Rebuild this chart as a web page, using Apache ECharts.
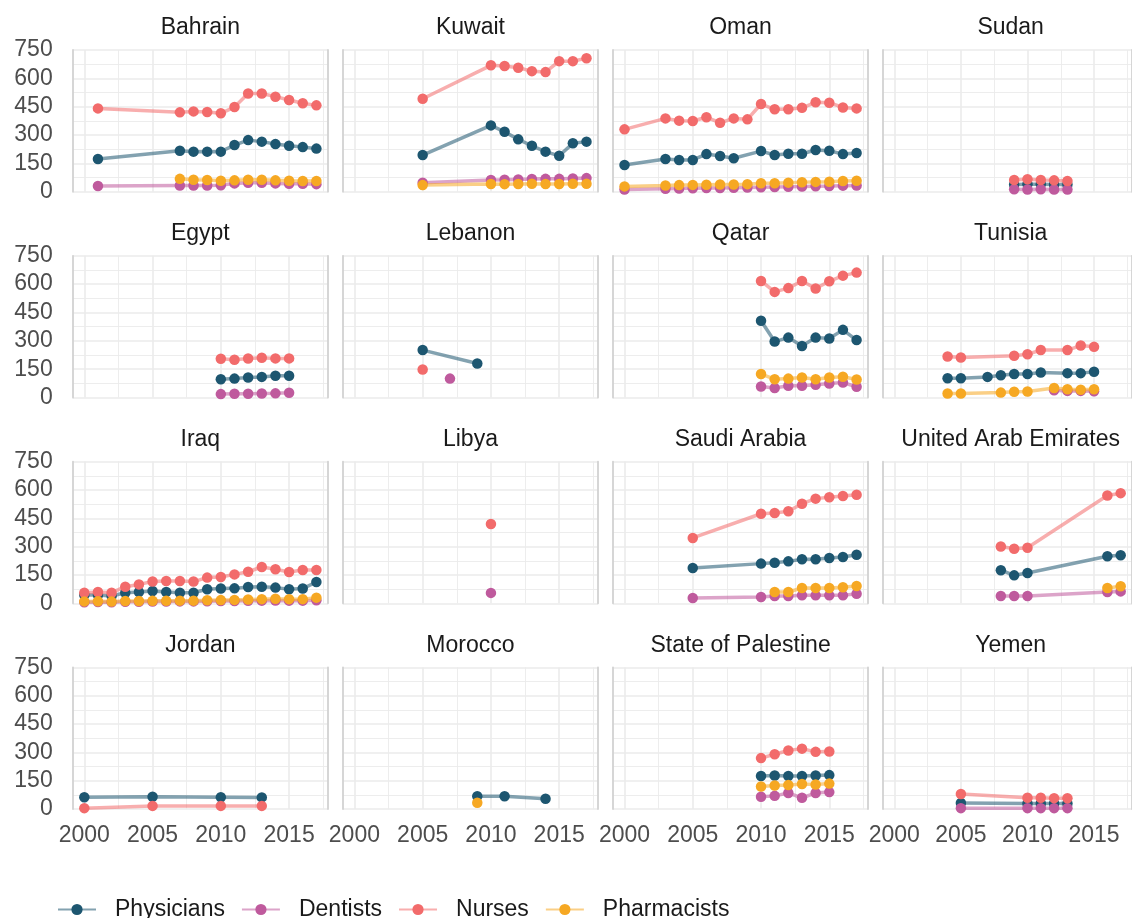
<!DOCTYPE html>
<html>
<head>
<meta charset="utf-8">
<script src="https://cdn.jsdelivr.net/npm/echarts@6/dist/echarts.min.js"></script>
<style>
  html, body { margin: 0; padding: 0; background: #ffffff; }
  #chart { width: 1132px; height: 918px; }
</style>
</head>
<body>
<div id="chart"></div>
<script>
// Health workforce density by country (per 100 000 population)
const professions = ['Physicians', 'Dentists', 'Nurses', 'Pharmacists'];
const countries = ['Bahrain', 'Kuwait', 'Oman', 'Sudan',
                   'Egypt', 'Lebanon', 'Qatar', 'Tunisia',
                   'Iraq', 'Libya', 'Saudi Arabia', 'United Arab Emirates',
                   'Jordan', 'Morocco', 'State of Palestine', 'Yemen'];
const xTickLabels = [2000, 2005, 2010, 2015];
const xMinorBreaks = [2002.5, 2007.5, 2012.5, 2017.5];
const yTickLabels = [0, 150, 300, 450, 600, 750];

const bahrainYears       = [2001, 2007, 2008, 2009, 2010, 2011, 2012, 2013, 2014, 2015, 2016, 2017];
const bahrainPhysicians  = [173, 217, 212, 212, 212, 247, 273, 265, 252, 243, 236, 228];
const bahrainDentists    = [30, 33, 33, 33, 34, 44, 47, 47, 44, 42, 42, 40];
const bahrainNurses      = [441, 420, 425, 422, 415, 448, 520, 520, 503, 485, 468, 457];
const bahrainPharmacists = [null, 68, 63, 62, 58, 60, 63, 63, 60, 58, 57, 57];

const kuwaitYears       = [2005, 2010, 2011, 2012, 2013, 2014, 2015, 2016, 2017];
const kuwaitPhysicians  = [194, 351, 317, 277, 243, 212, 190, 256, 265];
const kuwaitDentists    = [48, 62, 63, 65, 67, 68, 68, 70, 72];
const kuwaitNurses      = [492, 669, 665, 656, 638, 633, 691, 691, 706];
const kuwaitPharmacists = [35, 41, 40, 41, 42, 41, 41, 42, 42];

const omanYears       = [2000, 2003, 2004, 2005, 2006, 2007, 2008, 2009, 2010, 2011, 2012, 2013, 2014, 2015, 2016, 2017];
const omanPhysicians  = [141, 173, 168, 168, 199, 189, 177, null, 215, 194, 201, 201, 221, 217, 199, 205];
const omanDentists    = [12, 16, 17, 18, 19, 20, 21, 22, 24, 25, 26, 27, 29, 30, 32, 33];
const omanNurses      = [330, 388, 376, 374, 394, 365, 388, 383, 464, 436, 436, 444, 473, 471, 446, 441];
const omanPharmacists = [28, 33, 35, 36, 37, 38, 38, 40, 45, 45, 48, 50, 52, 53, 57, 58];

const sudanYears      = [2009, 2010, 2011, 2012, 2013];
const sudanPhysicians = [38, 39, 39, 38, 38];
const sudanDentists   = [13, 12, 13, 12, 12];
const sudanNurses     = [62, 66, 62, 60, 57];

const egyptYears      = [2010, 2011, 2012, 2013, 2014, 2015];
const egyptPhysicians = [97, 100, 106, 109, 115, 115];
const egyptDentists   = [18, 20, 20, 21, 22, 25];
const egyptNurses     = [205, 200, 206, 210, 207, 207];

const lebanonYears      = [2005, 2007, 2009];
const lebanonPhysicians = [251, null, 180];
const lebanonDentists   = [null, 100, null];
const lebanonNurses     = [148, null, null];

const qatarYears       = [2010, 2011, 2012, 2013, 2014, 2015, 2016, 2017];
const qatarPhysicians  = [406, 296, 317, 273, 317, 312, 358, 304];
const qatarDentists    = [58, 50, 62, 62, 67, 74, 79, 57];
const qatarNurses      = [617, 559, 579, 617, 577, 615, 645, 661];
const qatarPharmacists = [124, 97, 100, 106, 97, 106, 110, 95];

const tunisiaYears       = [2004, 2005, 2007, 2008, 2009, 2010, 2011, 2012, 2013, 2014, 2015];
const tunisiaPhysicians  = [102, 102, 109, 118, 124, 124, 132, null, 129, 129, 136];
const tunisiaDentists    = [null, null, null, null, null, null, null, 38, 35, 35, 33];
const tunisiaNurses      = [217, 212, null, null, 221, 229, 251, null, 251, 275, 268];
const tunisiaPharmacists = [21, 21, null, 26, 30, 32, null, 50, 44, 41, 44];

const iraqYears       = [2000, 2001, 2002, 2003, 2004, 2005, 2006, 2007, 2008, 2009, 2010, 2011, 2012, 2013, 2014, 2015, 2016, 2017];
const iraqPhysicians  = [44, 44, 39, 56, 60, 65, 60, 56, 56, 74, 78, 79, 86, 88, 83, 74, 78, 113];
const iraqDentists    = [6, 7, 6, 8, 8, 9, 9, 10, 10, 11, 12, 12, 13, 14, 15, 14, 14, 16];
const iraqNurses      = [56, 60, 56, 88, 100, 115, 118, 118, 115, 136, 139, 153, 167, 192, 180, 166, 176, 176];
const iraqPharmacists = [10, 11, 9, 12, 12, 13, 13, 14, 14, 16, 17, 18, 20, 22, 24, 22, 22, 30];

const libyaYears    = [2010];
const libyaDentists = [55];
const libyaNurses   = [420];

const saudiYears       = [2005, 2010, 2011, 2012, 2013, 2014, 2015, 2016, 2017];
const saudiPhysicians  = [187, 210, 215, 222, 233, 233, 240, 245, 257];
const saudiDentists    = [28, 33, 39, 39, 42, 42, 42, 42, 51];
const saudiNurses      = [346, 474, 478, 487, 527, 554, 561, 568, 575];
const saudiPharmacists = [null, null, 60, 60, 81, 81, 81, 85, 92];

const uaeYears       = [2008, 2009, 2010, 2016, 2017];
const uaePhysicians  = [175, 148, 160, 249, 254];
const uaeDentists    = [39, 39, 39, 60, 63];
const uaeNurses      = [301, 289, 294, 571, 583];
const uaePharmacists = [null, null, null, 81, 90];

const jordanYears      = [2000, 2005, 2010, 2013];
const jordanPhysicians = [63, 65, 63, 62];
const jordanNurses     = [5, 17, 17, 17];

const moroccoYears       = [2009, 2011, 2014];
const moroccoPhysicians  = [68, 68, 55];
const moroccoPharmacists = [34, null, null];

const palestineYears       = [2010, 2011, 2012, 2013, 2014, 2015];
const palestinePhysicians  = [175, 178, 175, 175, 178, 180];
const palestineDentists    = [65, 70, 85, 60, 85, 90];
const palestineNurses      = [270, 290, 310, 320, 303, 305];
const palestinePharmacists = [120, 125, 128, 133, 130, 135];

const yemenYears      = [2005, 2010, 2011, 2012, 2013];
const yemenPhysicians = [32, 30, 30, 30, 30];
const yemenDentists   = [5, 5, 5, 5, 5];
const yemenNurses     = [80, 60, 60, 58, 57];

// panel order follows the countries list; value order follows professions
const panels = [
  [bahrainYears, bahrainPhysicians, bahrainDentists, bahrainNurses, bahrainPharmacists],
  [kuwaitYears, kuwaitPhysicians, kuwaitDentists, kuwaitNurses, kuwaitPharmacists],
  [omanYears, omanPhysicians, omanDentists, omanNurses, omanPharmacists],
  [sudanYears, sudanPhysicians, sudanDentists, sudanNurses, null],
  [egyptYears, egyptPhysicians, egyptDentists, egyptNurses, null],
  [lebanonYears, lebanonPhysicians, lebanonDentists, lebanonNurses, null],
  [qatarYears, qatarPhysicians, qatarDentists, qatarNurses, qatarPharmacists],
  [tunisiaYears, tunisiaPhysicians, tunisiaDentists, tunisiaNurses, tunisiaPharmacists],
  [iraqYears, iraqPhysicians, iraqDentists, iraqNurses, iraqPharmacists],
  [libyaYears, null, libyaDentists, libyaNurses, null],
  [saudiYears, saudiPhysicians, saudiDentists, saudiNurses, saudiPharmacists],
  [uaeYears, uaePhysicians, uaeDentists, uaeNurses, uaePharmacists],
  [jordanYears, jordanPhysicians, null, jordanNurses, null],
  [moroccoYears, moroccoPhysicians, null, null, moroccoPharmacists],
  [palestineYears, palestinePhysicians, palestineDentists, palestineNurses, palestinePharmacists],
  [yemenYears, yemenPhysicians, yemenDentists, yemenNurses, null]
];

// styling
const colors = ['#1d5670', '#bf5a9d', '#f26b6b', '#f6a823'];
const FONT = '"Liberation Sans", Arial, sans-serif';
const FONT_SIZE = 23;
const AXIS_TEXT = '#4d4d4d';
const GRID_MAJOR = '#ebebeb';
const PANEL_EDGE = '#d2d2d2';

// facet geometry
const PANEL_LEFT0 = 72.7, COL_STEP = 270.1, PANEL_W = 255.3;
const PANEL_TOP0 = 50, ROW_STEP = 205.8, PANEL_H = 141.7;
const X_MIN = 1999.15, X_MAX = 2017.85;

const grids = [], xAxes = [], yAxes = [], lineSeries = [], pointSeries = [], graphics = [];

countries.forEach((name, p) => {
  const col = p % 4, row = Math.floor(p / 4);
  const left = PANEL_LEFT0 + col * COL_STEP;
  const top = PANEL_TOP0 + row * ROW_STEP;
  grids.push({ left: left, top: top, width: PANEL_W, height: PANEL_H, containLabel: false });

  // major x breaks (with labels on the bottom row)
  xAxes.push({
    type: 'value', gridIndex: p, min: X_MIN, max: X_MAX,
    axisLine: { show: false },
    axisTick: { show: false, customValues: xTickLabels },
    axisLabel: {
      show: row === 3, customValues: xTickLabels, margin: 15,
      fontSize: FONT_SIZE, color: AXIS_TEXT, fontFamily: FONT,
      formatter: v => String(v)
    },
    splitLine: { show: true, lineStyle: { color: GRID_MAJOR, width: 1.6 } }
  });
  // minor x breaks
  xAxes.push({
    type: 'value', gridIndex: p, min: X_MIN, max: X_MAX,
    axisLine: { show: false },
    axisTick: { show: false, customValues: xMinorBreaks },
    axisLabel: { show: false, customValues: xMinorBreaks },
    splitLine: { show: true, lineStyle: { color: GRID_MAJOR, width: 0.9 } }
  });
  // value axis on the left, with the panel's left edge line
  yAxes.push({
    type: 'value', gridIndex: p, position: 'left',
    min: yTickLabels[0], max: yTickLabels[yTickLabels.length - 1], interval: 150,
    axisLine: { show: true, lineStyle: { color: PANEL_EDGE, width: 1.8 } },
    axisTick: { show: false },
    axisLabel: { show: col === 0, margin: 20, fontSize: FONT_SIZE, color: AXIS_TEXT, fontFamily: FONT },
    splitLine: { show: true, lineStyle: { color: GRID_MAJOR, width: 1.6 } },
    minorTick: { show: false, splitNumber: 2 },
    minorSplitLine: { show: true, lineStyle: { color: GRID_MAJOR, width: 0.9 } }
  });
  // panel's right edge line
  yAxes.push({
    type: 'value', gridIndex: p, position: 'right',
    min: yTickLabels[0], max: yTickLabels[yTickLabels.length - 1], interval: 150,
    axisLine: { show: true, lineStyle: { color: PANEL_EDGE, width: 1.8 } },
    axisTick: { show: false }, axisLabel: { show: false }, splitLine: { show: false }
  });

  // facet strip title
  graphics.push({
    type: 'text', x: left + PANEL_W / 2, y: top - 22, silent: true,
    style: { text: name, align: 'center', verticalAlign: 'middle',
             font: FONT_SIZE + 'px ' + FONT, fill: '#1a1a1a' }
  });

  const panel = panels[p];
  const years = panel[0];
  professions.forEach((prof, k) => {
    const vals = panel[k + 1];
    if (!vals) return;
    const data = [];
    years.forEach((y, i) => { if (vals[i] !== null && vals[i] !== undefined) data.push([y, vals[i]]); });
    if (!data.length) return;
    lineSeries.push({
      name: prof, type: 'line', xAxisIndex: 2 * p, yAxisIndex: 2 * p,
      data: data, symbol: 'none', z: 2, silent: true,
      lineStyle: { color: colors[k], width: 3.5, opacity: 0.55 },
      itemStyle: { color: colors[k] }
    });
    pointSeries.push({
      name: prof, type: 'scatter', xAxisIndex: 2 * p, yAxisIndex: 2 * p,
      data: data, symbol: 'circle', symbolSize: 10.5, z: 3, silent: true,
      itemStyle: { color: colors[k], opacity: 1 }
    });
  });
});

const chart = echarts.init(document.getElementById('chart'), null, { renderer: 'canvas' });
chart.setOption({
  animation: false,
  backgroundColor: '#ffffff',
  textStyle: { fontFamily: FONT },
  grid: grids,
  xAxis: xAxes,
  yAxis: yAxes,
  legend: {
    data: professions, left: 52, top: 893, orient: 'horizontal',
    itemWidth: 38, itemHeight: 14, itemGap: 16,
    textStyle: { fontSize: FONT_SIZE, color: '#1a1a1a', fontFamily: FONT, padding: [0, 0, 0, 14] }
  },
  graphic: graphics,
  series: lineSeries.concat(pointSeries)
});
</script>
</body>
</html>
